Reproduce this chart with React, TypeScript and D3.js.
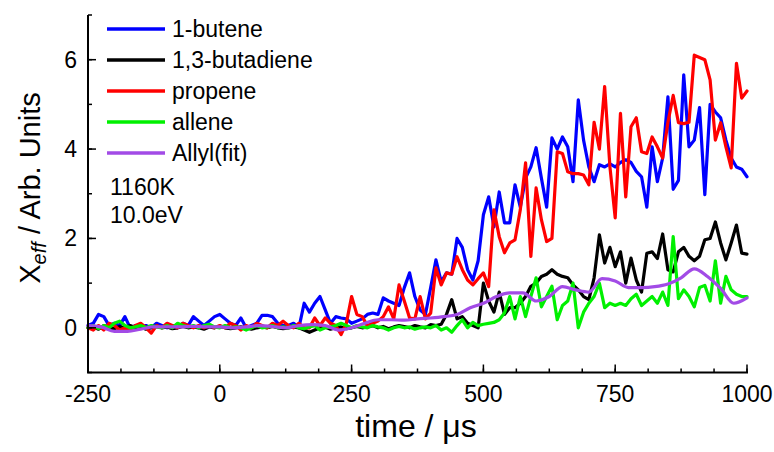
import React from "react";
import * as d3 from "d3";

const W = 774;
const H = 452;

// sampling grid of the measured traces (µs)
const times: number[] = d3.range(-250, 1001, 10);

const butene1: number[] = [
  0.05, 0.1, 0.3, 0.25, 0.05, 0.1, 0.05, 0.25, 0.0, 0.05,
  0.0, 0.05, 0.0, 0.1, 0.05, 0.0, 0.05, 0.0, 0.1, 0.05,
  0.25, 0.15, 0.05, 0.15, 0.25, 0.3, 0.2, 0.1, 0.05, 0.22,
  0.0, 0.05, 0.1, 0.28, 0.28, 0.25, 0.1, 0.05, 0.05, 0.1,
  0.0, 0.55, 0.35, 0.55, 0.7, 0.4, 0.1, 0.25, 0.22, 0.2,
  0.1, 0.15, 0.2, 0.3, 0.33, 0.3, 0.67, 0.6, 0.55, 0.5,
  0.9, 1.23, 0.7, 0.4, 0.3, 0.9, 1.52, 1.03, 1.23, 1.2,
  2.0, 1.8, 1.3, 1.07, 1.5, 2.53, 2.93, 2.26, 3.04, 2.35,
  2.35, 3.2, 2.7, 3.35, 3.6, 4.03, 3.35, 2.7, 4.25, 4.0,
  4.27, 4.05, 3.27, 5.1, 4.2, 3.6, 3.27, 3.65, 3.6, 3.67,
  3.6, 3.7, 3.76, 3.7, 3.5, 3.38, 2.7, 4.05, 3.27, 3.8,
  5.17, 3.1, 3.3, 5.66, 4.05, 4.2, 4.93, 2.98, 5.0, 4.83,
  4.7, 4.2, 3.8, 3.6, 3.55, 3.38,
];

const butadiene: number[] = [
  0.0, 0.02, -0.03, 0.05, 0.0, -0.02, 0.03, 0.0, 0.05, 0.0,
  0.02, -0.03, 0.0, 0.03, 0.0, 0.02, -0.02, 0.0, 0.03, 0.0,
  0.02, 0.0, -0.03, 0.02, 0.0, 0.03, 0.0, -0.02, 0.0, 0.02,
  0.0, -0.03, 0.0, 0.02, 0.0, 0.03, 0.0, -0.02, 0.0, 0.02,
  0.0, -0.05, -0.1, -0.05, 0.0, 0.02, -0.03, 0.0, 0.02, -0.02,
  0.0, 0.03, 0.0, 0.02, 0.05, 0.0, 0.03, -0.02, 0.02, 0.05,
  0.03, 0.0, 0.05, 0.02, 0.0, 0.07, 0.05, 0.08, 0.3, 0.63,
  0.2, 0.25, 0.1, 0.05, 0.0, 1.0, 0.6, 0.35, 0.8, 0.3,
  0.45, 0.45, 0.55, 0.7, 0.93, 1.0, 1.15, 1.2, 1.3, 1.2,
  1.15, 1.12, 0.96, 0.85, 0.7, 0.63, 1.12, 2.08, 1.45, 1.8,
  1.37, 1.7, 1.0, 1.56, 1.07, 0.8, 1.67, 1.7, 1.55, 2.1,
  1.3, 1.25, 1.7, 1.8, 1.6, 1.5, 1.6, 1.97, 2.0, 2.37,
  1.9, 1.52, 1.9, 2.3, 1.67, 1.65,
];

const propene: number[] = [
  0.0, -0.05, 0.05, -0.05, 0.1, 0.05, -0.05, 0.0, -0.05, 0.05,
  0.1, 0.0, -0.12, 0.05, 0.0, 0.1, 0.05, 0.0, 0.1, 0.05,
  0.0, 0.05, 0.0, 0.05, 0.0, 0.05, 0.0, 0.1, 0.05, -0.05,
  0.05, 0.0, 0.1, 0.05, 0.0, 0.1, 0.05, 0.15, 0.05, 0.0,
  0.1, 0.0, 0.0, 0.22, 0.05, 0.22, 0.1, 0.05, -0.15, 0.1,
  0.7, 0.3, 0.25, 0.05, 0.1, 0.15, 0.25, 0.47, 0.2, 0.96,
  0.6, 0.22, 0.2, 0.7, 0.2, 0.33, 1.34, 0.96, 1.23, 1.2,
  1.59, 1.3, 1.07, 0.96, 1.1, 1.23, 0.92, 2.64, 2.04, 1.68,
  1.9, 1.97, 2.64, 3.69, 1.6, 3.13, 2.42, 1.93, 2.0, 3.94,
  3.9, 3.49, 3.45, 3.45, 3.42, 3.2, 4.6, 4.0, 5.4, 3.6,
  2.46, 4.8, 2.93, 4.5, 4.7, 3.94, 3.9, 4.27, 4.05, 3.8,
  4.6, 5.2, 4.59, 4.57, 4.6, 6.1, 6.05, 6.0, 5.55, 4.2,
  4.59, 4.05, 3.58, 5.92, 5.14, 5.3,
];

const allene: number[] = [
  0.0, 0.05, -0.02, 0.05, 0.0, 0.1, 0.15, 0.05, 0.0, 0.02,
  0.05, 0.0, 0.05, 0.02, 0.0, 0.05, 0.0, 0.1, 0.05, 0.02,
  0.05, 0.0, 0.05, 0.08, 0.02, 0.0, 0.05, 0.0, 0.02, 0.0,
  -0.05, 0.0, 0.05, 0.0, 0.02, 0.05, 0.0, 0.02, 0.0, 0.05,
  0.0, -0.02, 0.02, 0.05, -0.05, 0.0, 0.02, 0.05, 0.1, 0.05,
  0.0, 0.05, 0.02, 0.0, 0.05, 0.02, 0.0, -0.05, 0.0, 0.03,
  0.0, 0.02, -0.03, 0.0, 0.02, 0.0, 0.05, -0.05, 0.0, -0.1,
  0.05, 0.18, 0.0, 0.12, 0.05, 0.08, 0.1, 0.12, 0.18, 0.33,
  0.7, 0.2, 0.7, 0.25, 0.7, 1.12, 0.47, 0.7, 0.93, 0.18,
  0.5, 0.6, 1.0, 0.0, 0.35, 0.55, 0.7, 1.0, 0.45, 0.55,
  0.5, 0.55, 0.5, 0.65, 0.75, 0.5, 0.6, 0.7, 0.55, 0.8,
  0.5, 2.04, 0.65, 0.85, 0.7, 0.47, 0.9, 0.95, 0.6, 1.5,
  0.55, 1.15, 0.85, 0.75, 0.7, 0.7,
];

const allylTimes: number[] = d3.range(-250, 1001, 25);
const allylFit: number[] = [
  0.05, 0.02, -0.08, -0.08, -0.03, 0.02, 0.02, 0.02, 0.03, 0.02,
  0.02, 0.0, 0.02, 0.05, 0.03, 0.0, 0.05, 0.07, 0.05, -0.05,
  0.0, 0.1, 0.18, 0.18, 0.17, 0.2, 0.22, 0.25, 0.3, 0.45,
  0.55, 0.7, 0.78, 0.78, 0.6, 0.7, 0.92, 0.85, 0.8, 1.1,
  1.05, 0.9, 0.9, 0.92, 0.98, 1.12, 1.32, 1.15, 0.88, 0.55,
  0.67,
];

const seriesNames = ["1-butene", "1,3-butadiene", "propene", "allene", "Allyl(fit)"];
const seriesColors = ["#0000ff", "#000000", "#ff0000", "#00f000", "#a24be6"];

const xTicks = [-250, 0, 250, 500, 750, 1000];
const yTicks = [0, 2, 4, 6];
const xMinor = d3.range(-250, 1001, 62.5);
const yMinor = d3.range(-1, 7.01, 1);

const annotations = ["1160K", "10.0eV"];

const FONT = "'Liberation Sans', Arial, sans-serif";

export default function App() {
  const x = d3.scaleLinear().domain([-250, 1000]).range([88, 747]);
  const y = d3.scaleLinear().domain([-1, 7]).range([372.5, 15]);

  const mk = (ts: number[], vs: number[], curve: d3.CurveFactory = d3.curveLinear) =>
    d3
      .line<number>()
      .x((_, i) => x(ts[i]))
      .y((v) => y(v))
      .curve(curve)(vs) || "";

  const paths = [
    { d: mk(times, butene1), c: seriesColors[0] },
    { d: mk(times, butadiene), c: seriesColors[1] },
    { d: mk(times, propene), c: seriesColors[2] },
    { d: mk(times, allene), c: seriesColors[3] },
    { d: mk(allylTimes, allylFit, d3.curveMonotoneX), c: seriesColors[4] },
  ];

  const x0 = x.range()[0];
  const y0 = y.range()[0];
  const yTop = y.range()[1];
  const xEnd = x.range()[1];

  return (
    <svg
      width={W}
      height={H}
      style={{ position: "absolute", left: 0, top: 0, background: "#fff" }}
      fontFamily={FONT}
    >
      <rect x={0} y={0} width={W} height={H} fill="#fff" />
      {paths.map((p, i) => (
        <path
          key={i}
          d={p.d}
          fill="none"
          stroke={p.c}
          strokeWidth={3.2}
          strokeLinejoin="round"
          strokeLinecap="round"
        />
      ))}

      {/* axes */}
      <line x1={x0} x2={x0} y1={yTop} y2={y0} stroke="#000" strokeWidth={2} />
      <line x1={x0 - 1} x2={xEnd + 1} y1={y0} y2={y0} stroke="#000" strokeWidth={2} />
      {xMinor.map((t) => (
        <line key={"xm" + t} x1={x(t)} x2={x(t)} y1={y0} y2={y0 - 4} stroke="#000" strokeWidth={1.5} />
      ))}
      {xTicks.map((t) => (
        <g key={"xt" + t}>
          <line x1={x(t)} x2={x(t)} y1={y0} y2={y0 - 8} stroke="#000" strokeWidth={1.5} />
          <text x={x(t)} y={402} textAnchor="middle" fontSize={23} fill="#000">
            {t}
          </text>
        </g>
      ))}
      {yMinor.map((v) => (
        <line key={"ym" + v} x1={x0} x2={x0 + 4} y1={y(v)} y2={y(v)} stroke="#000" strokeWidth={1.5} />
      ))}
      {yTicks.map((v) => (
        <g key={"yt" + v}>
          <line x1={x0} x2={x0 + 8} y1={y(v)} y2={y(v)} stroke="#000" strokeWidth={1.5} />
          <text x={77} y={y(v) + 8} textAnchor="end" fontSize={23} fill="#000">
            {v}
          </text>
        </g>
      ))}

      {/* axis titles */}
      <text x={416} y={437} textAnchor="middle" fontSize={32} fill="#000">
        time / μs
      </text>
      <text
        transform={`translate(40, 188) rotate(-90)`}
        textAnchor="middle"
        fontSize={29}
        fill="#000"
      >
        X<tspan fontSize={20} fontStyle="italic" dy={6}>eff</tspan>
        <tspan dy={-6}> / Arb. Units</tspan>
      </text>

      {/* legend */}
      {seriesNames.map((n, i) => {
        const ly = 29 + i * 31;
        return (
          <g key={n}>
            <line x1={107} x2={165} y1={ly} y2={ly} stroke={seriesColors[i]} strokeWidth={3.5} />
            <text x={172} y={ly + 8} fontSize={23} fill="#000">
              {n}
            </text>
          </g>
        );
      })}
      {annotations.map((a, i) => (
        <text key={a} x={110} y={195 + i * 28} fontSize={23} fill="#000">
          {a}
        </text>
      ))}
    </svg>
  );
}
